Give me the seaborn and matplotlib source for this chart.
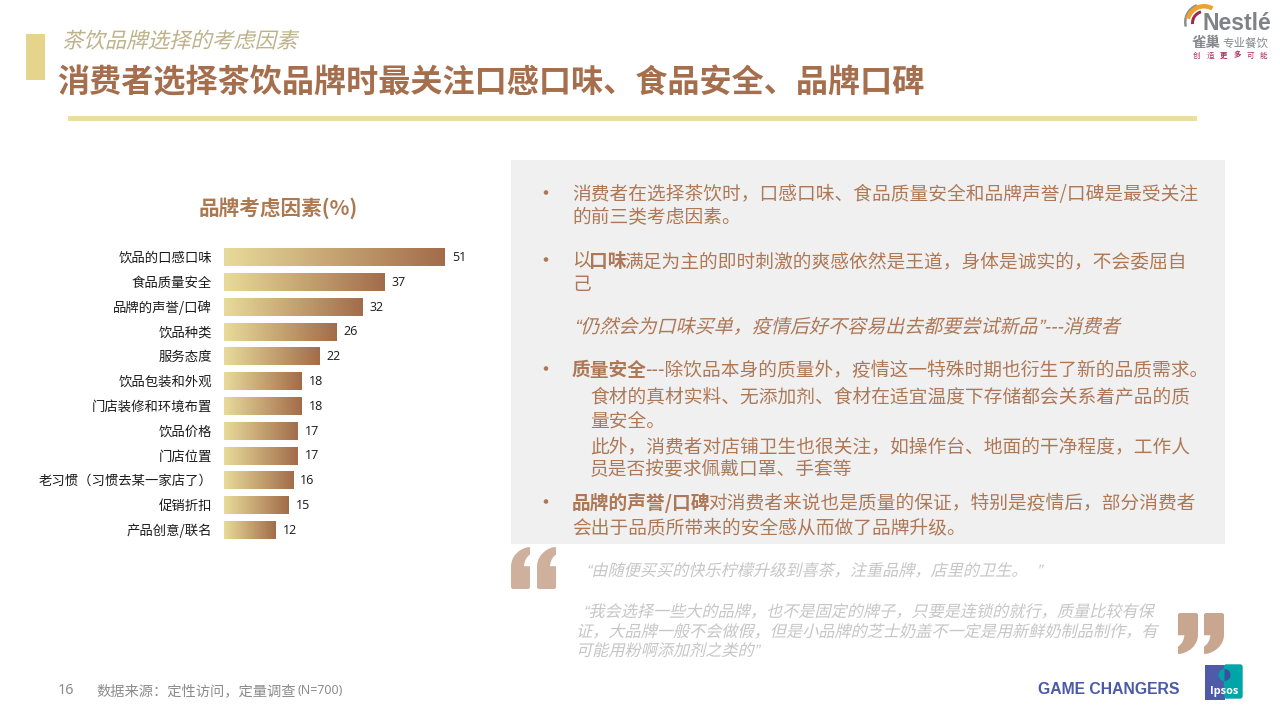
import numpy as np
import pandas as pd
import matplotlib
matplotlib.use("Agg")
import matplotlib.pyplot as plt
import seaborn as sns
from matplotlib.colors import LinearSegmentedColormap
from matplotlib.patches import Rectangle, Wedge, PathPatch, FancyBboxPatch
from matplotlib.path import Path
from matplotlib.patheffects import AbstractPathEffect
from matplotlib.transforms import Affine2D

factors = ["饮品的口感口味", "食品质量安全", "品牌的声誉/口碑", "饮品种类", "服务态度", "饮品包装和外观",
           "门店装修和环境布置", "饮品价格", "门店位置", "老习惯（习惯去某一家店了）", "促销折扣", "产品创意/联名"]
scores = [51, 37, 32, 26, 22, 18, 18, 17, 17, 16, 15, 12]

sup_title = "茶饮品牌选择的考虑因素"
main_title = "消费者选择茶饮品牌时最关注口感口味、食品安全、品牌口碑"
chart_title = "品牌考虑因素(%)"
footer_page = "16"
footer_note = "数据来源：定性访问，定量调查"
footer_n = "(N=700)"

CJK = ["Noto Sans CJK SC", "DejaVu Sans"]
LATIN_FIRST = ["Liberation Sans", "Noto Sans CJK SC"]
sns.set_theme(style="white")
plt.rcParams["font.family"] = CJK
plt.rcParams["axes.unicode_minus"] = False

BROWN = "#AE7856"
KHAKI = "#E5D58C"
GREY_Q = "#C6C6C6"

fig = plt.figure(figsize=(12.8, 7.2), dpi=100, facecolor="white")
bg = fig.add_axes([0, 0, 1, 1], zorder=0)
bg.set_xlim(0, 1280)
bg.set_ylim(720, 0)
bg.axis("off")


class Shear(AbstractPathEffect):
    """Slant the glyph outlines, since the CJK fonts have no italic face."""
    def __init__(self, k=0.24):
        super().__init__()
        self.k = k

    def draw_path(self, renderer, gc, tpath, affine, rgbFace=None):
        ox, oy = affine.transform((0, 0))
        t = affine + Affine2D().translate(-ox, -oy).skew(np.arctan(self.k), 0).translate(ox, oy)
        renderer.draw_path(gc, tpath, t, rgbFace)


SLANT = [Shear()]


def line(x, yc, s, px, color, bold=False, italic=False, ha="left", family=CJK):
    t = bg.text(x, yc + 0.36 * px, s, fontsize=px * 0.72, color=color, ha=ha, va="baseline",
                fontweight="bold" if bold else "normal", family=family)
    if italic:
        t.set_path_effects(SLANT)
    return t


def runs(x, yc, parts, px, color):
    r = fig.canvas.get_renderer()
    for s, b in parts:
        t = line(x, yc, s, px, color, bold=b)
        x = bg.transData.inverted().transform(t.get_window_extent(r).corners()[2])[0] - 2


def quote_mark(x, y, w, h, color, opening=False):
    """One heavy quotation mark: a block with a curved tail."""
    verts = [(0, 0.03), (0.08, 0), (0.92, 0), (1, 0.03), (1, 0.52),
             (0.98, 0.9), (0.08, 1), (0, 0.97), (0, 0.8), (0.28, 0.72), (0.32, 0.53), (0, 0.53), (0, 0.03)]
    codes = [Path.MOVETO, Path.LINETO, Path.LINETO, Path.LINETO, Path.LINETO,
             Path.CURVE4, Path.CURVE4, Path.CURVE4, Path.LINETO, Path.CURVE3, Path.CURVE3, Path.LINETO, Path.CLOSEPOLY]
    v = np.array(verts, dtype=float)
    if opening:
        v = 1 - v
    v = v * [w, h] + [x, y]
    bg.add_patch(PathPatch(Path(v, codes), fc=color, ec="none"))


# header
bg.add_patch(Rectangle((26, 34), 19, 46, fc=KHAKI, ec="none"))
bg.add_patch(Rectangle((68, 116), 1129, 5, fc="#E9DFA2", ec="none"))
line(62, 40, sup_title, 21.4, "#BDB28A", italic=True)
line(57.5, 81, main_title, 32.1, "#A56F4E", bold=True)

# panel
bg.add_patch(Rectangle((511, 160), 714, 384, fc="#F0F0F0", ec="none"))
B = 18.72
for yb in (193, 260, 369, 502):
    bg.add_patch(plt.Circle((546, yb - 0.5), 2.3, fc=BROWN, ec="none"))
line(572, 193, "消费者在选择茶饮时，口感口味、食品质量安全和品牌声誉/口碑是最受关注", B, BROWN)
line(572, 215, "的前三类考虑因素。", B, BROWN)
runs(572, 260, [("以", False), ("口味", True), ("满足为主的即时刺激的爽感依然是王道，身体是诚实的，不会委屈自", False)], B, BROWN)
line(572, 283, "己", B, BROWN)
line(574, 326, "“仍然会为口味买单，疫情后好不容易出去都要尝试新品”---消费者", 19.05, BROWN, italic=True, family=LATIN_FIRST)
runs(572, 369, [("质量安全", True), ("---除饮品本身的质量外，疫情这一特殊时期也衍生了新的品质需求。", False)], B, BROWN)
line(590, 396, "食材的真材实料、无添加剂、食材在适宜温度下存储都会关系着产品的质", B, BROWN)
line(590, 420, "量安全。", B, BROWN)
line(590, 446, "此外，消费者对店铺卫生也很关注，如操作台、地面的干净程度，工作人", B, BROWN)
line(590, 468, "员是否按要求佩戴口罩、手套等", B, BROWN)
runs(572, 502, [("品牌的声誉/口碑", True), ("对消费者来说也是质量的保证，特别是疫情后，部分消费者", False)], B, BROWN)
line(572, 526, "会出于品质所带来的安全感从而做了品牌升级。", B, BROWN)

# verbatim quotes
Q = 16.15
line(586, 570, "“由随便买买的快乐柠檬升级到喜茶，注重品牌，店里的卫生。  ”", Q, GREY_Q, italic=True, family=LATIN_FIRST)
line(583, 611, "“我会选择一些大的品牌，也不是固定的牌子，只要是连锁的就行，质量比较有保", Q, GREY_Q, italic=True, family=LATIN_FIRST)
line(576, 631, "证，大品牌一般不会做假，但是小品牌的芝士奶盖不一定是用新鲜奶制品制作，有", Q, GREY_Q, italic=True, family=LATIN_FIRST)
line(576, 650, "可能用粉啊添加剂之类的”", Q, GREY_Q, italic=True, family=LATIN_FIRST)
quote_mark(511, 546, 19, 43, "#CFB09C", opening=True)
quote_mark(537, 546, 19, 43, "#CFB09C", opening=True)
quote_mark(1178, 613, 20, 42, "#C8A690")
quote_mark(1204, 613, 20, 42, "#C8A690")

# footer
line(58, 689, footer_page, 14.5, "#8C8C8C", family=["Noto Sans"])
line(96, 690, footer_note, 14.3, "#8C8C8C")
line(297, 690, footer_n, 12.4, "#8C8C8C", family=["Noto Sans"])
line(1038, 688, "GAME CHANGERS", 15.7, "#4A5AA6", bold=True, family=["Liberation Sans"])
bg.add_patch(Rectangle((1205, 665), 19.5, 35, fc="#4F5AA8", ec="none"))
bg.add_patch(FancyBboxPatch((1224.5, 665), 17.5, 33, boxstyle="round,pad=0,rounding_size=2", fc="#00A5A8", ec="#00A5A8", lw=1))
bg.add_patch(Rectangle((1224.5, 665), 9, 10, fc="#00A5A8", ec="none"))
bg.add_patch(Wedge((1224.5, 675), 6, 90, 270, fc="#00A5A8", ec="none"))
bg.add_patch(Wedge((1224.5, 675), 6, 270, 90, fc="#3C4FA0", ec="none"))
line(1224, 690, "Ipsos", 11, "white", bold=True, ha="center", family=["Open Sans"])

# logo
bg.add_patch(Wedge((1203, 22), 19, 165, 250, width=2.5, fc="#8A8D92", ec="none"))
bg.add_patch(Wedge((1204, 23), 19, 195, 300, width=4.5, fc="#EDA12F", ec="none"))
bg.add_patch(Wedge((1204, 23), 13, 175, 255, width=3, fc="#9C2B4E", ec="none"))
line(1203, 22, "Nestlé", 23, "#7F8388", bold=True, family=["Liberation Sans"])
line(1192, 41.5, "雀巢", 14.5, "#85888C", bold=True)
line(1222, 42.5, "专业餐饮", 11.5, "#85888C")
for i, (ch, strong) in enumerate(zip("创造更多可能", [0, 0, 1, 1, 0, 0])):
    line(1193 + i * 13.4, 55, ch, 7.5, "#B0305A", bold=bool(strong))

# chart title
line(278, 208, chart_title, 20.6, "#AC7850", bold=True, ha="center")

# bar chart
UNIT, ROW = 221 / 51, 24.8
LEFT, TOP = 224, 245.1
xmax = 60
ax = fig.add_axes([LEFT / 1280, 1 - (TOP + ROW * len(scores)) / 720, xmax * UNIT / 1280, ROW * len(scores) / 720],
                  zorder=1)
ax.patch.set_alpha(0)
df = pd.DataFrame({"factor": factors, "score": scores})
sns.barplot(data=df, x="score", y="factor", orient="h", width=0.7, color="#C9A878", saturation=1, ax=ax)
cmap = LinearSegmentedColormap.from_list("bar", ["#E8DB9A", "#A26C4A"])
grad = np.linspace(0, 1, 256).reshape(1, -1)
for p in ax.containers[0]:
    x0, y0, w, h = p.get_x(), p.get_y(), p.get_width(), p.get_height()
    ax.imshow(grad, cmap=cmap, extent=[x0, x0 + w, y0 + h, y0], aspect="auto", zorder=3)
ax.bar_label(ax.containers[0], padding=5, fontsize=9, color="#1A1A1A", family="Open Sans")
ax.set_xlim(0, xmax)
ax.set_ylim(len(scores) - 0.5, -0.5)
ax.set_xlabel("")
ax.set_ylabel("")
ax.set_xticks([])
ax.tick_params(axis="y", length=0, pad=8.6, labelsize=9.6, labelcolor="#1A1A1A")
for lab in ax.get_yticklabels():
    lab.set_transform(lab.get_transform() + Affine2D().translate(0, 1))
sns.despine(ax=ax, left=True, bottom=True)

fig.savefig("out.png", dpi=100, facecolor="white")
